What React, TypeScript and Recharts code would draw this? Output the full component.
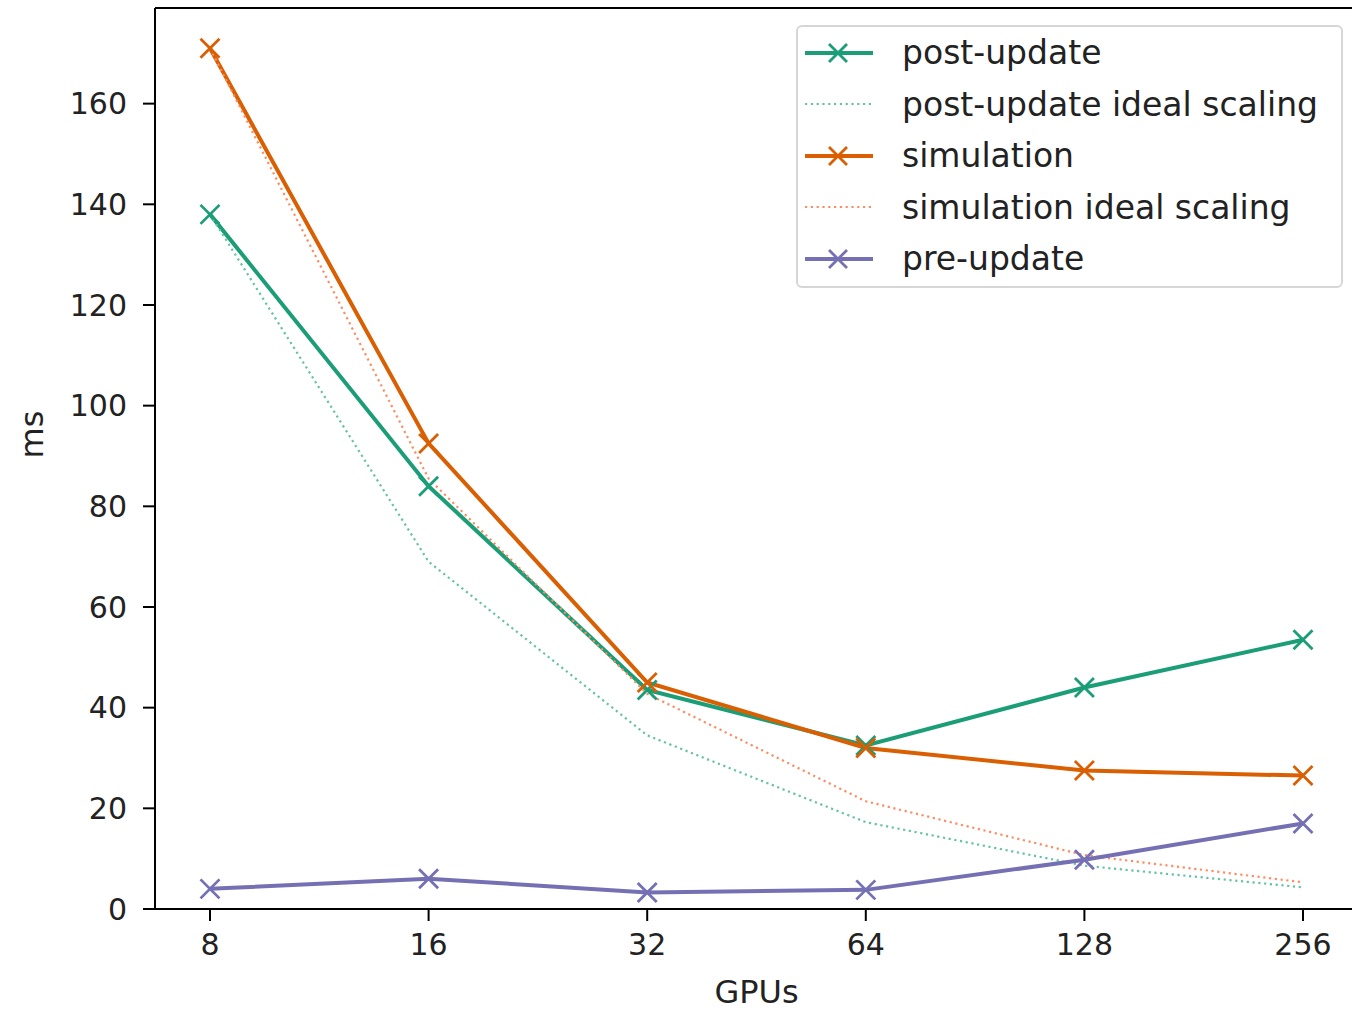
import { Line, LineChart, ReferenceLine, XAxis, YAxis } from "recharts";

const gpus = ["8", "16", "32", "64", "128", "256"];
const postUpdate = [138, 84, 43.5, 32.5, 44, 53.5];
const postIdeal = [138, 69, 34.5, 17.25, 8.6, 4.3];
const simulation = [171, 92.5, 45, 32, 27.5, 26.5];
const simIdeal = [171, 85.5, 42.75, 21.4, 10.7, 5.3];
const preUpdate = [4, 6, 3.3, 3.8, 9.8, 17];
const yTicks = [0, 20, 40, 60, 80, 100, 120, 140, 160];

const GREEN = "#1b9e77";
const ORANGE = "#d95f02";
const PURPLE = "#7570b3";
const GREEN_LIGHT = "#66c2a5";
const ORANGE_LIGHT = "#fc8d62";
const FONT = "'DejaVu Sans', sans-serif";

const data = gpus.map((g, i) => ({
  gpus: g,
  post: postUpdate[i],
  postIdeal: postIdeal[i],
  sim: simulation[i],
  simIdeal: simIdeal[i],
  pre: preUpdate[i],
}));

const legendItems = [
  { label: "post-update", color: GREEN, dotted: false },
  { label: "post-update ideal scaling", color: GREEN_LIGHT, dotted: true },
  { label: "simulation", color: ORANGE, dotted: false },
  { label: "simulation ideal scaling", color: ORANGE_LIGHT, dotted: true },
  { label: "pre-update", color: PURPLE, dotted: false },
];

function cross(color: string) {
  return (props: any) => {
    const { cx, cy, index } = props;
    const r = 9.5;
    return (
      <path
        key={`x-${index}`}
        d={`M${cx - r},${cy - r}L${cx + r},${cy + r}M${cx - r},${cy + r}L${cx + r},${cy - r}`}
        stroke={color}
        strokeWidth={2.8}
        fill="none"
      />
    );
  };
}

// matplotlib-style legend box, placed over the upper right of the plot
function LegendBox() {
  return (
    <div
      style={{
        position: "absolute",
        left: 796,
        top: 25,
        width: 547,
        height: 263,
        border: "2px solid #d6d6d6",
        borderRadius: 6,
        background: "rgba(255,255,255,0.8)",
        boxSizing: "border-box",
        fontFamily: FONT,
        fontSize: 33,
        color: "#222",
      }}
    >
      {legendItems.map((it) => (
        <div key={it.label} style={{ display: "flex", alignItems: "center", height: 51.5 }}>
          <svg width={99} height={30} style={{ marginLeft: 5, flex: "none" }}>
            <line
              x1={2}
              x2={70}
              y1={15}
              y2={15}
              stroke={it.color}
              strokeWidth={it.dotted ? 2.2 : 4}
              strokeDasharray={it.dotted ? "2.2 3.6" : undefined}
            />
            {!it.dotted && (
              <path d="M26,6L44,24M26,24L44,6" stroke={it.color} strokeWidth={2.8} />
            )}
          </svg>
          <span style={{ whiteSpace: "nowrap", lineHeight: 1 }}>{it.label}</span>
        </div>
      ))}
    </div>
  );
}

export default function App() {
  return (
    <div
      style={{
        position: "absolute",
        left: 0,
        top: 0,
        width: 1352,
        height: 1011,
        overflow: "hidden",
        background: "#fff",
      }}
    >
      <LineChart
        width={1360}
        height={1011}
        data={data}
        margin={{ top: 8, right: 2, bottom: 0, left: 0 }}
      >
        <XAxis
          dataKey="gpus"
          padding={{ left: 55, right: 55 }}
          stroke="#000"
          strokeWidth={2}
          tickSize={12}
          tickMargin={13}
          tick={{ fill: "#222", fontSize: 30, fontFamily: FONT }}
          tickLine={{ stroke: "#000", strokeWidth: 2 }}
          height={102}
          label={{
            value: "GPUs",
            position: "insideBottom",
            offset: 8,
            fill: "#222",
            fontSize: 32,
            fontFamily: FONT,
          }}
        />
        <YAxis
          type="number"
          domain={[0, 179]}
          ticks={yTicks}
          allowDataOverflow
          stroke="#000"
          strokeWidth={2}
          tickSize={12}
          tickMargin={16}
          width={155}
          tick={{ fill: "#222", fontSize: 30, fontFamily: FONT }}
          tickLine={{ stroke: "#000", strokeWidth: 2 }}
          label={{
            value: "ms",
            angle: -90,
            position: "insideLeft",
            offset: 32,
            fill: "#222",
            fontSize: 32,
            fontFamily: FONT,
          }}
        />
        <ReferenceLine y={179} stroke="#000" strokeWidth={2} ifOverflow="visible" />
        <Line
          dataKey="post"
          stroke={GREEN}
          strokeWidth={4}
          dot={cross(GREEN)}
          activeDot={false}
          isAnimationActive={false}
        />
        <Line
          dataKey="postIdeal"
          stroke={GREEN_LIGHT}
          strokeWidth={2.2}
          strokeDasharray="2.2 3.6"
          dot={false}
          activeDot={false}
          isAnimationActive={false}
        />
        <Line
          dataKey="sim"
          stroke={ORANGE}
          strokeWidth={4}
          dot={cross(ORANGE)}
          activeDot={false}
          isAnimationActive={false}
        />
        <Line
          dataKey="simIdeal"
          stroke={ORANGE_LIGHT}
          strokeWidth={2.2}
          strokeDasharray="2.2 3.6"
          dot={false}
          activeDot={false}
          isAnimationActive={false}
        />
        <Line
          dataKey="pre"
          stroke={PURPLE}
          strokeWidth={4}
          dot={cross(PURPLE)}
          activeDot={false}
          isAnimationActive={false}
        />
      </LineChart>
      <LegendBox />
    </div>
  );
}
